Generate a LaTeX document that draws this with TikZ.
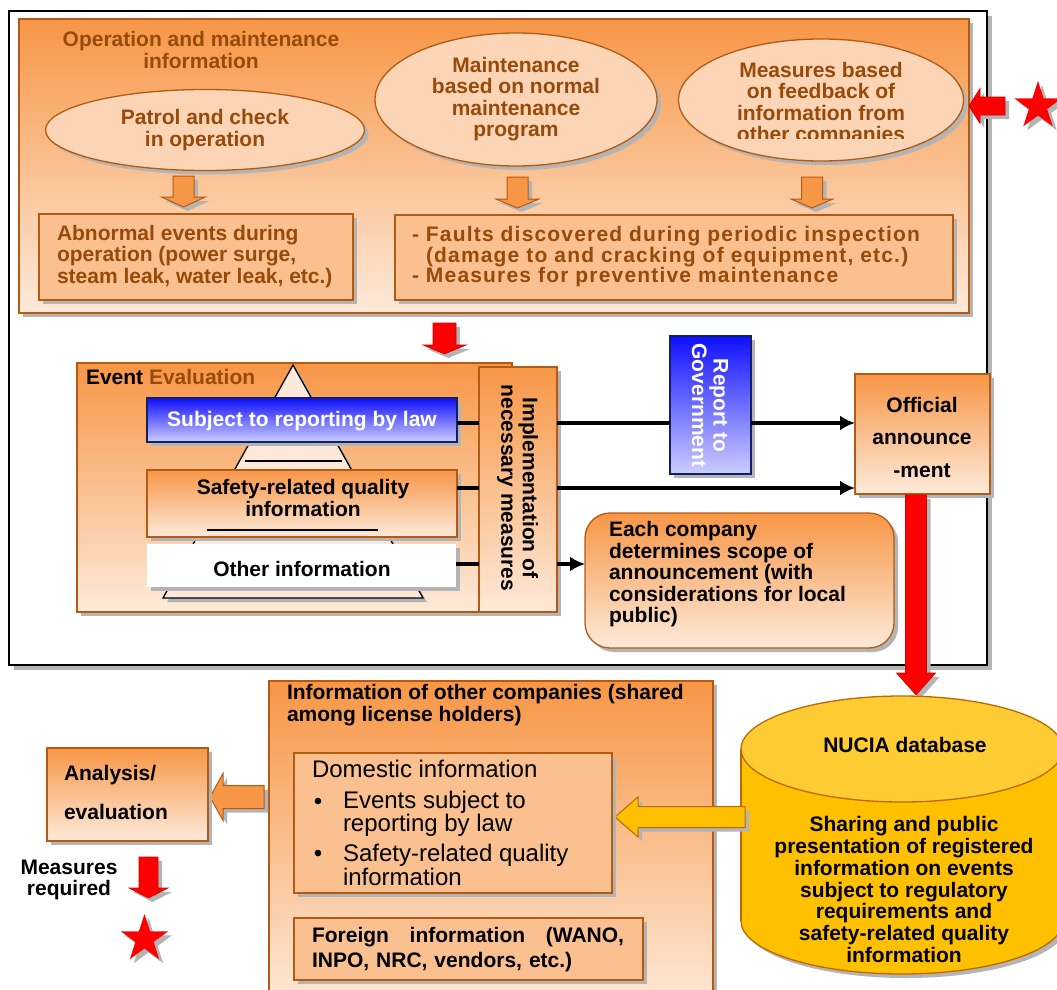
\documentclass[tikz,border=0pt]{standalone}
\usepackage{fontspec}
\setmainfont{Liberation Sans}
\usetikzlibrary{shadows,shapes.geometric,arrows.meta}

\definecolor{orTop}{RGB}{247,150,70}
\definecolor{orBot}{RGB}{253,234,218}
\definecolor{orFlat}{RGB}{250,192,144}
\definecolor{peach}{RGB}{251,213,181}
\definecolor{pyr}{RGB}{252,233,218}
\definecolor{brd}{RGB}{180,90,18}
\definecolor{brn}{RGB}{152,74,10}
\definecolor{shd}{RGB}{180,180,180}
\definecolor{blTop}{RGB}{15,15,255}
\definecolor{blBot}{RGB}{205,205,255}
\definecolor{navy}{RGB}{16,32,100}
\definecolor{gold}{RGB}{255,192,0}
\definecolor{goldLt}{RGB}{255,204,51}
\definecolor{goldBrd}{RGB}{190,105,0}
\definecolor{redA}{RGB}{255,0,0}
\definecolor{redB}{RGB}{210,0,0}

% block arrow pointing down: cx, top, head base, tip, half shaft, half head, style
\newcommand{\downblock}[7]{%
  \path[#7] ({#1-#5},#2) -- ({#1+#5},#2) -- ({#1+#5},#3) -- ({#1+#6},#3)
    -- (#1,#4) -- ({#1-#6},#3) -- ({#1-#5},#3) -- cycle;}
% block arrow pointing left: tip x, cy, head base x, tail x, half shaft, half head, style
\newcommand{\leftblock}[7]{%
  \path[#7] (#1,#2) -- (#3,{#2-#6}) -- (#3,{#2-#5}) -- (#4,{#2-#5})
    -- (#4,{#2+#5}) -- (#3,{#2+#5}) -- (#3,{#2+#6}) -- cycle;}

\begin{document}
\begin{tikzpicture}[x=1pt,y=-1pt,
  every node/.style={inner sep=0pt,outer sep=0pt},
  shadowed/.style={drop shadow={shadow xshift=4pt,shadow yshift=-4pt,fill=shd,opacity=1}},
  bold/.style={font=\bfseries\fontsize{21}{21.5}\selectfont},
  plain/.style={font=\fontsize{24}{21.5}\selectfont},
  grad/.style={top color=orTop,bottom color=orBot},
  obox/.style={rectangle,draw=brd,line width=1.3pt,shadowed},
  bbox/.style={rectangle,draw=navy,line width=1.5pt,top color=blTop,bottom color=blBot,shadowed},
  oval/.style={ellipse,draw=brd,line width=1.3pt,fill=peach,shadowed},
  oarrow/.style={fill=orTop,draw=brd,line width=1pt,shadowed},
  rarrow/.style={fill=redA,draw=redB,line width=0.6pt,shadowed},
  yarrow/.style={fill=gold,draw=goldBrd,line width=1pt,shadowed},
  link/.style={line width=3.5pt,black},
  tip/.style={-{Latex[length=15pt,width=15pt]}},
  redstar/.style={star,star points=5,star point ratio=2.618,minimum size=50pt,fill=redA,shadowed}
]
\useasboundingbox (0,0) rectangle (1057,990);

% outer frame
\node[rectangle,draw=black,line width=2pt,fill=white,
  drop shadow={shadow xshift=5pt,shadow yshift=-5pt,fill=shd,opacity=1},
  minimum width=978pt,minimum height=654pt] (frame) at (498,338) {};

% operation and maintenance block
\node[obox,grad,minimum width=950pt,minimum height=294pt] (opblock) at (494,166) {};
\node[bold,text=brn,align=center] (optitle) at (201,50) {Operation and maintenance\\information};

\node[oval,minimum width=319pt,minimum height=81pt] (patrol) at (205,130) {};
\node[bold,text=brn,align=center] (patroltxt) at (205,130) {Patrol and check\\in operation};

\node[oval,minimum width=282pt,minimum height=133pt] (normal) at (516,99.5) {};
\node[bold,text=brn,align=center] (normaltxt) at (516,99) {Maintenance\\based on normal\\maintenance\\program};

\node[oval,minimum width=285pt,minimum height=122pt] (feedback) at (821,100) {};
\begin{scope}
  \clip (680,30) rectangle (965,138.5);
  \node[bold,text=brn,align=center] (feedbacktxt) at (821,104)
    {Measures based\\on feedback of\\information from\\other companies};
\end{scope}

\downblock{183.5}{176}{197}{207}{10.5}{22}{oarrow}
\downblock{517.5}{177}{199}{208}{10.5}{21.5}{oarrow}
\downblock{812}{177}{199}{208}{10.5}{21}{oarrow}

\node[obox,fill=orFlat,minimum width=314pt,minimum height=86pt] (abnormal) at (196,257) {};
\node[bold,text=brn,align=left,anchor=west] (abnormaltxt) at (57,256.5)
  {Abnormal events during\\operation (power surge,\\steam leak, water leak, etc.)};

\node[obox,fill=orFlat,minimum width=558pt,minimum height=85pt] (faults) at (674,257.5) {};
\node[font=\bfseries\fontsize{21}{20.5}\selectfont\addfontfeature{LetterSpace=5.6},
  text=brn,align=left,anchor=west] (faultstxt) at (412,257)
  {- Faults discovered during periodic inspection\\
   \hphantom{- }(damage to and cracking of equipment, etc.)\\
   - Measures for preventive maintenance};

% feedback from other companies
\leftblock{969}{106}{980}{1005}{9}{17.5}{rarrow}
\node[redstar] (startop) at (1038,106) {};

% to event evaluation
\downblock{444.5}{323}{345}{354}{11.5}{21.5}{rarrow}

% event evaluation
\node[obox,grad,minimum width=435pt,minimum height=249pt] (event) at (294.5,487.5) {};
\node[bold,anchor=west] (eventtitle) at (86,377) {Event \textcolor{brn}{Evaluation}};

\draw[fill=pyr,line width=1.3pt,shadowed] (293,365) -- (423,598) -- (163,598) -- cycle;
\draw[line width=1.5pt] (245,461) -- (342,461);

\node[bbox,minimum width=310pt,minimum height=44pt] (law) at (302,420) {};
\node[bold,text=white] (lawtxt) at (302,421) {Subject to reporting by law};

\node[obox,grad,minimum width=310pt,minimum height=67pt] (safety) at (302,503.5) {};
\node[bold,align=center] (safetytxt) at (303,498) {Safety-related quality\\information};
\draw[line width=1.5pt] (207,530) -- (378,530);

\node[rectangle,fill=white,shadowed,minimum width=309pt,minimum height=43pt] (other) at (301.5,565.5) {};
\node[bold] (othertxt) at (302,569) {Other information};

\node[obox,grad,minimum width=78pt,minimum height=245pt] (impl) at (518,489.5) {};
\node[bold,align=center,rotate=-90] (impltxt) at (517.5,488) {Implementation of\\necessary measures};

\node[bbox,minimum width=81pt,minimum height=138pt] (report) at (710.5,405) {};
\node[bold,text=white,align=center,rotate=-90] (reporttxt) at (710,405.5) {Report to\\Government};

\node[obox,grad,minimum width=135pt,minimum height=120pt] (official) at (922.5,434) {};
\node[font=\bfseries\fontsize{21}{32.5}\selectfont,align=center] (officialtxt) at (922,437)
  {Official\\announce\\-ment};

\node[rectangle,rounded corners=25pt,draw=brd,line width=1.3pt,grad,shadowed,
  minimum width=309pt,minimum height=135pt] (company) at (739.5,580.5) {};
\node[bold,align=left,anchor=west] (companytxt) at (609,574.5)
  {Each company\\determines scope of\\announcement (with\\considerations for local\\public)};

% connectors
\coordinate (rowA) at (0,423);
\coordinate (rowB) at (0,488);
\coordinate (rowC) at (0,564);
\draw[link] (law.east |- rowA) -- (impl.west |- rowA);
\draw[link] (impl.east |- rowA) -- (report.west |- rowA);
\draw[link,tip] (report.east |- rowA) -- (official.west |- rowA);
\draw[link] (safety.east |- rowB) -- (impl.west |- rowB);
\draw[link,tip] (impl.east |- rowB) -- (official.west |- rowB);
\draw[link] (other.east |- rowC) -- (impl.west |- rowC);
\draw[link,tip] (impl.east |- rowC) -- (company.west |- rowC);

% registration into the database
\downblock{916}{495}{673}{695}{10.5}{19.5}{rarrow}

% NUCIA database cylinder
\fill[shd] (906,925) ellipse [x radius=161,y radius=53];
\fill[shd] (745,753) rectangle (1067,925);
\draw[fill=gold,draw=goldBrd,line width=1.3pt] (902,921) ellipse [x radius=161,y radius=53];
\fill[gold] (741,749) rectangle (1063,921);
\draw[goldBrd,line width=1.3pt] (741,749) -- (741,921);
\node[ellipse,draw=goldBrd,line width=1.3pt,fill=goldLt,minimum width=322pt,minimum height=106pt] (nucia) at (902,749) {};
\node[bold] (nuciatxt) at (905,745) {NUCIA database};
\node[font=\bfseries\fontsize{21}{21.8}\selectfont,align=center] (nuciadesc) at (904,889.5)
  {Sharing and public\\presentation of registered\\information on events\\subject to regulatory\\requirements and\\safety-related quality\\information};

% information of other companies
\node[obox,grad,minimum width=444pt,minimum height=330pt] (shared) at (491,846) {};
\node[bold,align=left,anchor=west] (sharedtxt) at (287,705)
  {Information of other companies (shared\\among license holders)};

\leftblock{615}{817}{638}{745}{10.5}{20}{yarrow}

\node[obox,fill=orFlat,minimum width=318pt,minimum height=140pt] (domestic) at (453,823) {};
\node[plain,anchor=west] (domtitle) at (312,769) {Domestic information};
\node[plain] (bulA) at (318,804) {•};
\node[plain,align=left,anchor=west] (itemA) at (343,814) {Events subject to\\reporting by law};
\node[plain] (bulB) at (318,856) {•};
\node[plain,align=left,anchor=west] (itemB) at (343,865) {Safety-related quality\\information};

\node[obox,fill=orFlat,minimum width=349pt,minimum height=62pt] (foreign) at (468.5,949) {};
\node[font=\bfseries\fontsize{21}{25}\selectfont,text width=312pt,align=left,anchor=west] (foreigntxt) at (312,949.5)
  {Foreign\hspace{0pt plus 1filll}information\hspace{0pt plus 1filll}(WANO,\\INPO, NRC, vendors, etc.)};

% analysis and resulting measures
\leftblock{210}{797}{223}{264}{11.5}{23.5}{oarrow}
\node[obox,grad,minimum width=161pt,minimum height=93pt] (analysis) at (127.5,794.5) {};
\node[font=\bfseries\fontsize{21}{39}\selectfont,align=left,anchor=west] (analysistxt) at (64,792.5)
  {Analysis/\\evaluation};

\node[bold,align=center] (measures) at (69,880) {Measures\\required};
\downblock{148.5}{857}{888}{898}{9.5}{19.5}{rarrow}
\node[redstar] (starbottom) at (144.5,939) {};

\end{tikzpicture}
\end{document}
